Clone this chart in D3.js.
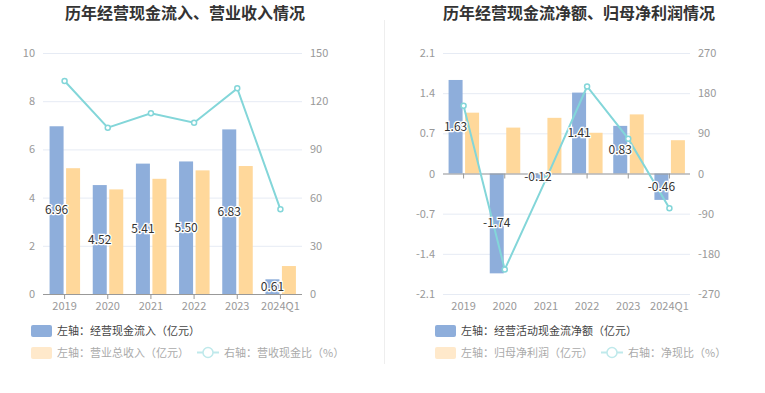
<!DOCTYPE html>
<html>
<head>
<meta charset="utf-8">
<script src="https://cdn.jsdelivr.net/npm/d3@7"></script>
<style>
  body { margin: 0; background: #fff; }
  svg { display: block; font-family: "Noto Sans CJK SC", "Noto Sans", sans-serif; }
</style>
</head>
<body>
<svg id="chart" width="765" height="393"></svg>
<script>
'use strict';

// categories
const years = ['2019', '2020', '2021', '2022', '2023', '2024Q1'];

// left chart data
const cashInflow = [6.96, 4.52, 5.41, 5.50, 6.83, 0.61];
const revenue = [5.22, 4.34, 4.78, 5.13, 5.31, 1.16];
const revenueCashRatio = [132.6, 103.5, 112.5, 106.6, 128.0, 52.7];
const leftTicksL = [0, 2, 4, 6, 8, 10];
const leftTicksR = [0, 30, 60, 90, 120, 150];

// right chart data
const netCashFlow = [1.63, -1.74, -0.12, 1.41, 0.83, -0.46];
const netProfit = [1.06, 0.80, 0.97, 0.71, 1.03, 0.58];
const netCashRatio = [152, -215, -13, 195, 78, -78];
const rightTicksL = [-2.1, -1.4, -0.7, 0, 0.7, 1.4, 2.1];
const rightTicksR = [-270, -180, -90, 0, 90, 180, 270];

const BLUE = '#8eaedb';
const YELLOW = '#ffd89b';
const CYAN = '#83d6d9';

const svg = d3.select('#chart');

function drawPanel(cfg) {
    const g = svg.append('g');

    // title
    g.append('text')
        .attr('x', cfg.titleX).attr('y', 19)
        .attr('text-anchor', 'middle')
        .attr('font-size', 16).attr('font-weight', 'bold')
        .attr('fill', '#333')
        .text(cfg.title);

    const x = d3.scaleBand().domain(years).range([cfg.x0, cfg.x1]);
    const yL = d3.scaleLinear().domain(cfg.domainL).range([294, 53]);
    const yR = d3.scaleLinear().domain(cfg.domainR).range([294, 53]);

    // gridlines
    g.selectAll('.grid')
        .data(cfg.ticksL)
        .enter().append('line')
        .attr('x1', cfg.x0).attr('x2', cfg.x1)
        .attr('y1', d => yL(d) + 0.5).attr('y2', d => yL(d) + 0.5)
        .attr('stroke', '#e6ebf4').attr('stroke-width', 1);

    // left axis labels
    g.selectAll('.tl')
        .data(cfg.ticksL)
        .enter().append('text')
        .attr('x', cfg.x0 - 8).attr('y', d => yL(d) + 4)
        .attr('text-anchor', 'end')
        .attr('font-size', 11).attr('fill', '#999')
        .text(d => d);

    // right axis labels
    g.selectAll('.tr')
        .data(cfg.ticksR)
        .enter().append('text')
        .attr('x', cfg.x1 + 8).attr('y', d => yR(d) + 4)
        .attr('font-size', 11).attr('fill', '#999')
        .text(d => d);

    const bw = 14;
    const zero = yL(0);

    // bars
    g.selectAll('.b1')
        .data(cfg.bar1)
        .enter().append('rect')
        .attr('x', (d, i) => x(years[i]) + x.bandwidth() / 2 - bw - 1)
        .attr('y', d => Math.min(yL(d), zero))
        .attr('width', bw)
        .attr('height', d => Math.abs(yL(d) - zero))
        .attr('fill', BLUE);

    g.selectAll('.b2')
        .data(cfg.bar2)
        .enter().append('rect')
        .attr('x', (d, i) => x(years[i]) + x.bandwidth() / 2 + 1.5)
        .attr('y', d => Math.min(yL(d), zero))
        .attr('width', bw)
        .attr('height', d => Math.abs(yL(d) - zero))
        .attr('fill', YELLOW);

    // x axis line and ticks
    g.append('line')
        .attr('x1', cfg.x0).attr('x2', cfg.x1)
        .attr('y1', zero + 0.5).attr('y2', zero + 0.5)
        .attr('stroke', '#999');
    g.selectAll('.xt')
        .data(years)
        .enter().append('line')
        .attr('x1', d => x(d) + x.bandwidth() / 2).attr('x2', d => x(d) + x.bandwidth() / 2)
        .attr('y1', zero).attr('y2', zero + 5)
        .attr('stroke', '#999');
    g.selectAll('.xl')
        .data(years)
        .enter().append('text')
        .attr('x', d => x(d) + x.bandwidth() / 2).attr('y', 310)
        .attr('text-anchor', 'middle')
        .attr('font-size', 11).attr('fill', '#999')
        .text(d => d);

    // line
    const pts = cfg.line.map((v, i) => [x(years[i]) + x.bandwidth() / 2, yR(v)]);
    g.append('path')
        .attr('d', d3.line()(pts))
        .attr('fill', 'none').attr('stroke', CYAN).attr('stroke-width', 2);
    g.selectAll('.pt')
        .data(pts)
        .enter().append('circle')
        .attr('cx', d => d[0]).attr('cy', d => d[1]).attr('r', 2.5)
        .attr('fill', '#fff').attr('stroke', CYAN).attr('stroke-width', 1.5);

    // bar value labels
    g.selectAll('.vl')
        .data(cfg.bar1)
        .enter().append('text')
        .attr('x', (d, i) => x(years[i]) + x.bandwidth() / 2 - bw / 2 - 1)
        .attr('y', d => (yL(d) + zero) / 2 + 4)
        .attr('text-anchor', 'middle')
        .attr('font-size', 12).attr('fill', '#333')
        .attr('stroke', '#fff').attr('stroke-width', 2.5)
        .attr('paint-order', 'stroke')
        .text(d => d.toFixed(2));

    // legend
    const lx = cfg.legendX;
    g.append('rect')
        .attr('x', lx).attr('y', 325).attr('width', 21).attr('height', 12).attr('rx', 2)
        .attr('fill', BLUE);
    g.append('text')
        .attr('x', lx + 26).attr('y', 335)
        .attr('font-size', 11).attr('fill', '#444')
        .text(cfg.legend[0]);
    g.append('rect')
        .attr('x', lx).attr('y', 347).attr('width', 21).attr('height', 12).attr('rx', 2)
        .attr('fill', '#ffe9cb');
    g.append('text')
        .attr('x', lx + 26).attr('y', 357)
        .attr('font-size', 11).attr('fill', '#aaa')
        .text(cfg.legend[1]);
    const ix = cfg.lineLegendX;
    g.append('line')
        .attr('x1', ix).attr('x2', ix + 22).attr('y1', 352.5).attr('y2', 352.5)
        .attr('stroke', '#bfe9eb').attr('stroke-width', 2);
    g.append('circle')
        .attr('cx', ix + 11).attr('cy', 352.5).attr('r', 5)
        .attr('fill', '#fff').attr('stroke', '#bfe9eb').attr('stroke-width', 1.5);
    g.append('text')
        .attr('x', ix + 27).attr('y', 357)
        .attr('font-size', 11).attr('fill', '#aaa')
        .text(cfg.legend[2]);
}

drawPanel({
    title: '历年经营现金流入、营业收入情况',
    titleX: 185,
    x0: 43, x1: 302,
    domainL: [0, 10], domainR: [0, 150],
    ticksL: leftTicksL, ticksR: leftTicksR,
    bar1: cashInflow, bar2: revenue, line: revenueCashRatio,
    legendX: 31, lineLegendX: 197,
    legend: ['左轴：经营现金流入（亿元）', '左轴：营业总收入（亿元）', '右轴：营收现金比（%）']
});

drawPanel({
    title: '历年经营现金流净额、归母净利润情况',
    titleX: 579,
    x0: 443, x1: 690,
    domainL: [-2.1, 2.1], domainR: [-270, 270],
    ticksL: rightTicksL, ticksR: rightTicksR,
    bar1: netCashFlow, bar2: netProfit, line: netCashRatio,
    legendX: 435, lineLegendX: 601,
    legend: ['左轴：经营活动现金流净额（亿元）', '左轴：归母净利润（亿元）', '右轴：净现比（%）']
});

// divider
svg.append('line')
    .attr('x1', 384.5).attr('x2', 384.5).attr('y1', 20).attr('y2', 364)
    .attr('stroke', '#eee');
</script>
</body>
</html>
